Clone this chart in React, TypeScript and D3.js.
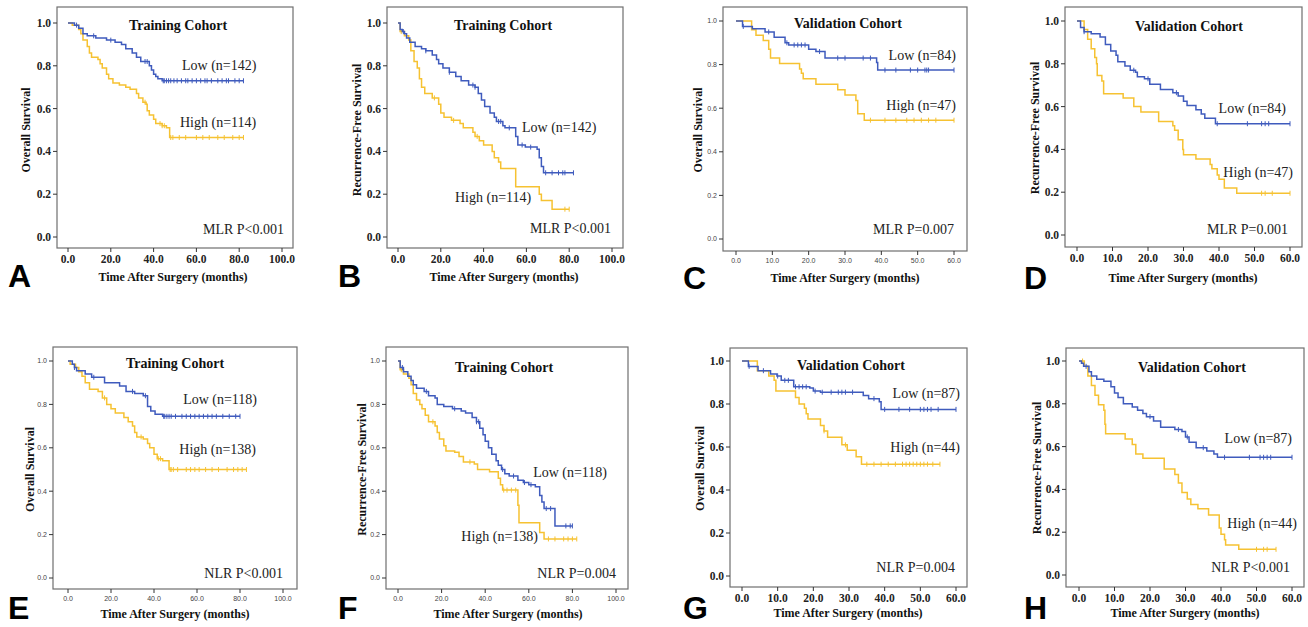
import * as d3 from 'd3';
import React, { useEffect } from 'react';

// survival steps: [time (months), survival after event]
const aLow = [[0,1],[3,0.99],[5,0.975],[7,0.95],[9,0.94],[13,0.93],[18,0.92],[22,0.91],[25,0.90],[27,0.88],[30,0.86],[32,0.84],[34,0.82],[38,0.80],[39,0.78],[40,0.76],[41,0.75],[42,0.74],[44,0.73]];
const aLowCens = [4,12,20,36,37,44.5,45,46,47,48,49.5,51,53,55,56,58,60,62,64,65,67,70,72,74,75,78,80,82];
const aHigh = [[0,1],[2,0.99],[5,0.97],[6,0.95],[7,0.92],[9,0.89],[10,0.86],[11,0.84],[14,0.83],[15,0.81],[16,0.79],[18,0.76],[19,0.74],[21,0.72],[24,0.71],[27,0.70],[29,0.69],[32,0.67],[33,0.65],[35,0.63],[36.5,0.62],[37,0.59],[38,0.57],[40,0.55],[41,0.53],[44,0.52],[46,0.51],[47.5,0.465]];
const aHighCens = [36,43,44,45,48,49,52,55,60,63,66,70,73,77,80,82];

const bLow = [[0,1],[1,0.97],[2,0.96],[3,0.95],[4,0.93],[5.5,0.91],[8,0.89],[11,0.88],[13,0.87],[16,0.85],[18,0.83],[19,0.81],[21,0.79],[24,0.77],[27,0.75],[29.5,0.73],[33,0.71],[36,0.70],[37.5,0.67],[39,0.64],[40.5,0.61],[43,0.58],[45,0.56],[46,0.54],[49,0.52],[50,0.51],[55,0.47],[56,0.43],[59.5,0.42],[65,0.41],[66,0.37],[67,0.33],[68,0.30]];
const bLowCens = [2.5,13,24,35,36,47,48,52,58,62,69,72,75,77,78,82];
const bHigh = [[0,1],[1,0.96],[3,0.94],[5,0.92],[6,0.87],[7.5,0.82],[9,0.79],[10,0.74],[11,0.70],[12.5,0.67],[16,0.65],[19,0.62],[20,0.58],[21.5,0.56],[25,0.545],[29,0.53],[30.5,0.51],[35,0.49],[36,0.47],[38,0.45],[40,0.43],[44,0.40],[45,0.37],[47,0.35],[48,0.32],[55,0.235],[66,0.20],[67,0.17],[72,0.13]];
const bHighCens = [1.5,17,26,37,78,80];

const cLow = [[0,1],[1.8,0.975],[4.5,0.965],[8,0.95],[10.5,0.925],[13.5,0.90],[14.5,0.89],[20,0.87],[22,0.86],[24.5,0.83],[38.7,0.81],[39,0.775]];
const cLowCens = [2,9,14,16,17,18,19,23,28,30,35,37,41,44,48,50,52,52.5,53,60];
const cHigh = [[0,1],[4.3,0.96],[5.5,0.935],[7.5,0.91],[9,0.87],[9.5,0.83],[12,0.805],[17.5,0.78],[18,0.76],[18.5,0.735],[22,0.71],[28,0.685],[30,0.66],[33,0.635],[33.5,0.575],[35.3,0.545]];
const cHighCens = [37,41,44,47,49,51,53,55,60];

const dLow = [[0,1],[1,0.97],[2,0.95],[4,0.94],[6.5,0.925],[8,0.89],[9.5,0.86],[11,0.84],[11.5,0.81],[13.5,0.79],[15,0.77],[16.5,0.76],[17,0.74],[19,0.73],[20.5,0.705],[23.5,0.68],[27,0.665],[28.5,0.65],[30,0.625],[31,0.605],[33.5,0.585],[35,0.565],[36,0.545],[39,0.52]];
const dLowCens = [2,16,20,28,39.5,48,52,53,54,60];
const dHigh = [[0,1],[2,0.96],[3,0.915],[4,0.87],[5,0.83],[5.5,0.80],[5.7,0.745],[7,0.72],[7.5,0.66],[13,0.64],[16,0.60],[18,0.575],[23,0.53],[27,0.51],[27.5,0.49],[28.5,0.445],[29.8,0.40],[30,0.375],[33.5,0.355],[37.5,0.33],[38,0.31],[39.5,0.28],[40,0.26],[41.5,0.22],[45,0.195]];
const dHighCens = [52,53,55,60];

const eLow = [[0,1],[2,0.985],[3,0.97],[4,0.955],[8,0.94],[11,0.925],[17,0.90],[24,0.885],[27,0.86],[31,0.85],[35,0.84],[37,0.79],[38.5,0.77],[40.5,0.755],[44,0.745]];
const eLowCens = [3,12,30,36,44.5,45,46,47,48,50,53,55,57,59,61,63,65,67,69,72,75,78,80];
const eHigh = [[0,1],[1,0.985],[3.5,0.97],[5,0.95],[6.5,0.93],[8,0.90],[10,0.87],[14,0.86],[16,0.83],[18,0.80],[20,0.78],[22,0.76],[26,0.74],[28,0.72],[30,0.70],[31,0.67],[32,0.65],[35,0.64],[37,0.62],[38,0.60],[40,0.57],[41.5,0.55],[44,0.54],[47,0.50]];
const eHighCens = [17,34,42,43,47.5,48,49,51,55,57,59,61,64,67,70,74,77,79,81,83];

const fLow = [[0,1],[1,0.97],[2.5,0.95],[4.5,0.93],[6,0.91],[7,0.89],[8.5,0.875],[12,0.86],[14,0.84],[17,0.83],[18,0.80],[21,0.79],[25,0.78],[29,0.77],[31,0.76],[34,0.74],[36,0.72],[37.5,0.69],[39,0.66],[40,0.63],[41.5,0.60],[43,0.57],[45,0.54],[46,0.52],[47.5,0.50],[49,0.48],[51,0.47],[55,0.45],[57.5,0.44],[60,0.43],[63,0.42],[65,0.38],[66,0.35],[67,0.32],[72,0.24]];
const fLowCens = [2,13,26,36,37,48,53,58,61,68,70,77,79,80];
const fHigh = [[0,1],[1,0.96],[2.5,0.94],[5,0.92],[6,0.89],[7,0.85],[8.5,0.82],[10,0.80],[11,0.78],[12.5,0.75],[14,0.72],[17,0.70],[18,0.67],[19,0.64],[21,0.61],[22,0.585],[26,0.58],[28,0.56],[30,0.535],[35,0.525],[36.5,0.50],[42,0.49],[46,0.46],[47,0.43],[48,0.405],[55,0.335],[55.5,0.255],[65,0.21],[67,0.18]];
const fHighCens = [1.5,16,33,48.5,50,52,54,69,72,76,78,80,82];

const gLow = [[0,1],[1.8,0.975],[4.5,0.955],[8,0.94],[9.8,0.93],[11,0.91],[14.5,0.88],[19,0.875],[20,0.86],[22,0.855],[34,0.84],[35.5,0.825],[38.5,0.81],[39,0.775]];
const gLowCens = [2,6,10,12,13,15,16,17,18,20.5,22.5,25,27,28,29,31,37,40,44,47,50,51,52,53,55,60];
const gHigh = [[0,1],[4.3,0.955],[7.5,0.93],[9,0.91],[9.5,0.86],[15,0.83],[16,0.80],[17.5,0.78],[18,0.755],[18.5,0.73],[22,0.70],[23,0.675],[24,0.645],[28,0.61],[29.5,0.585],[32,0.555],[33.5,0.52]];
const gHighCens = [23,29,35,37,39,41,43,45,46,47,48,49,50,51,52,53.5,55.5];

const hLow = [[0,1],[0.7,0.99],[1.3,0.975],[2.8,0.95],[3.5,0.93],[5,0.915],[7,0.905],[9,0.88],[10,0.85],[11,0.83],[12.5,0.80],[15,0.785],[16.5,0.77],[18,0.755],[19,0.74],[21,0.72],[23,0.69],[27,0.68],[29,0.67],[30,0.645],[31,0.62],[33,0.595],[36,0.58],[38,0.565],[39,0.55]];
const hLowCens = [2,20,28,30.5,35,41,48,51,52,53,54,60];
const hHigh = [[0,1],[1.5,0.975],[2.5,0.93],[3.5,0.885],[4.5,0.84],[5.5,0.795],[7,0.77],[7.3,0.705],[7.5,0.66],[13,0.635],[15,0.61],[16,0.565],[18,0.545],[24,0.495],[27,0.47],[28,0.43],[29,0.385],[30.5,0.355],[31.5,0.33],[33.5,0.31],[36.5,0.28],[39.5,0.22],[40,0.19],[41,0.165],[41.3,0.14],[45,0.12]];
const hHighCens = [1,50,52,53,55.5];

const letters = ['A', 'B', 'C', 'D', 'E', 'F', 'G', 'H'];
const titles = ['Training Cohort', 'Training Cohort', 'Validation Cohort', 'Validation Cohort', 'Training Cohort', 'Training Cohort', 'Validation Cohort', 'Validation Cohort'];
const yLabels = ['Overall Survival', 'Recurrence-Free Survival', 'Overall Survival', 'Recurrence-Free Survival', 'Overall Survival', 'Recurrence-Free Survival', 'Overall Survival', 'Recurrence-Free Survival'];
const lowLabels = ['Low (n=142)', 'Low (n=142)', 'Low (n=84)', 'Low (n=84)', 'Low (n=118)', 'Low (n=118)', 'Low (n=87)', 'Low (n=87)'];
const highLabels = ['High (n=114)', 'High (n=114)', 'High (n=47)', 'High (n=47)', 'High (n=138)', 'High (n=138)', 'High (n=44)', 'High (n=44)'];
const pLabels = ['MLR P<0.001', 'MLR P<0.001', 'MLR P=0.007', 'MLR P=0.001', 'NLR P<0.001', 'NLR P=0.004', 'NLR P=0.004', 'NLR P<0.001'];
const xMax = [100, 100, 60, 60, 100, 100, 60, 60];
const lowCurves = [aLow, bLow, cLow, dLow, eLow, fLow, gLow, hLow];
const lowCens = [aLowCens, bLowCens, cLowCens, dLowCens, eLowCens, fLowCens, gLowCens, hLowCens];
const highCurves = [aHigh, bHigh, cHigh, dHigh, eHigh, fHigh, gHigh, hHigh];
const highCens = [aHighCens, bHighCens, cHighCens, dHighCens, eHighCens, fHighCens, gHighCens, hHighCens];

const BLUE = '#3f5bbd';
const YELLOW = '#f6c232';
const SERIF = '"Liberation Serif", "Times New Roman", serif';
const SANS = '"Liberation Sans", Arial, sans-serif';

// layout: frame box, plotting range, text anchors
const layout = [
  { frame: [57, 7, 293, 248], xr: [68, 282], yr: [237, 23], small: false, letter: [8, 287], title: [178, 30], low: [182, 70, 'start'], high: [180, 127, 'start'], p: [284, 234], yl: 26, xl: [173, 281] },
  { frame: [387, 7, 623, 248], xr: [398, 612], yr: [237, 23], small: false, letter: [338, 287], title: [503, 30], low: [522, 132, 'start'], high: [455, 202, 'start'], p: [611, 233], yl: 357, xl: [504, 281] },
  { frame: [723, 7, 967, 251], xr: [736, 954], yr: [239, 21], small: true, letter: [683, 289], title: [848, 28], low: [956, 60, 'end'], high: [956, 110, 'end'], p: [954, 234], yl: 698, xl: [845, 282] },
  { frame: [1065, 7, 1302, 247], xr: [1077, 1290], yr: [235, 21], small: false, letter: [1024, 289], title: [1189, 31], low: [1286, 113, 'end'], high: [1293, 177, 'end'], p: [1288, 234], yl: 1035, xl: [1183, 282] },
  { frame: [53, 347, 297, 589], xr: [68, 283], yr: [578, 361], small: true, letter: [8, 619], title: [175, 368], low: [257, 404, 'end'], high: [256, 454, 'end'], p: [283, 578], yl: 30, xl: [175, 618] },
  { frame: [386, 347, 628, 589], xr: [398, 616], yr: [578, 361], small: true, letter: [338, 619], title: [504, 372], low: [607, 477, 'end'], high: [538, 541, 'end'], p: [616, 578], yl: 362, xl: [508, 618] },
  { frame: [730, 348, 967, 587], xr: [742, 956], yr: [576, 361], small: false, letter: [683, 619], title: [851, 370], low: [960, 398, 'end'], high: [960, 452, 'end'], p: [955, 572], yl: 700, xl: [848, 617] },
  { frame: [1066, 348, 1304, 587], xr: [1079, 1292], yr: [575, 361], small: false, letter: [1024, 619], title: [1192, 372], low: [1292, 443, 'end'], high: [1297, 528, 'end'], p: [1290, 572], yl: 1037, xl: [1185, 617] },
];

function Curve({ steps, cens, x, y, color }) {
  const end = Math.max(steps[steps.length - 1][0], d3.max(cens) || 0);
  const pts = [...steps, [end, steps[steps.length - 1][1]]];
  const line = d3.line().x(d => x(d[0])).y(d => y(d[1])).curve(d3.curveStepAfter);
  const bis = d3.bisector(d => d[0]).right;
  return (
    <g>
      <path d={line(pts)} fill="none" stroke={color} strokeWidth={1.5} />
      {cens.map((t, i) => {
        const s = steps[Math.max(0, bis(steps, t) - 1)][1];
        return <line key={i} x1={x(t)} x2={x(t)} y1={y(s) - 2.5} y2={y(s) + 2.5} stroke={color} strokeWidth={1} />;
      })}
    </g>
  );
}

function Panel({ i }) {
  const L = layout[i];
  const [fx0, fy0, fx1, fy1] = L.frame;
  const x = d3.scaleLinear().domain([0, xMax[i]]).range(L.xr);
  const y = d3.scaleLinear().domain([0, 1]).range(L.yr);
  const xt = d3.range(0, xMax[i] + 1, xMax[i] === 100 ? 20 : 10);
  const yt = y.ticks(5);
  const fmt = d3.format('.1f');
  const tickFont = L.small
    ? { fontFamily: SANS, fontSize: 7, fill: '#444' }
    : { fontFamily: SERIF, fontSize: 11.5, fontWeight: 'bold', fill: '#222' };
  const yMid = (L.yr[0] + L.yr[1]) / 2;
  return (
    <g>
      <rect x={fx0} y={fy0} width={fx1 - fx0} height={fy1 - fy0} fill="none" stroke="#6f6f6f" strokeWidth={1.2} />
      {yt.map(v => (
        <g key={'y' + v}>
          <line x1={fx0 - 4} x2={fx0} y1={y(v)} y2={y(v)} stroke="#333" />
          <text x={fx0 - 6} y={y(v)} dy="0.35em" textAnchor="end" {...tickFont}>{fmt(v)}</text>
        </g>
      ))}
      {xt.map(v => (
        <g key={'x' + v}>
          <line x1={x(v)} x2={x(v)} y1={fy1} y2={fy1 + 4} stroke="#333" />
          <text x={x(v)} y={fy1 + (L.small ? 12 : 15)} textAnchor="middle" {...tickFont}>{fmt(v)}</text>
        </g>
      ))}
      <Curve steps={highCurves[i]} cens={highCens[i]} x={x} y={y} color={YELLOW} />
      <Curve steps={lowCurves[i]} cens={lowCens[i]} x={x} y={y} color={BLUE} />
      <text x={L.title[0]} y={L.title[1]} textAnchor="middle" fontFamily={SERIF} fontWeight="bold" fontSize={14} fill="#111">{titles[i]}</text>
      <text x={L.low[0]} y={L.low[1]} textAnchor={L.low[2]} fontFamily={SERIF} fontSize={14} fill="#222">{lowLabels[i]}</text>
      <text x={L.high[0]} y={L.high[1]} textAnchor={L.high[2]} fontFamily={SERIF} fontSize={14} fill="#222">{highLabels[i]}</text>
      <text x={L.p[0]} y={L.p[1]} textAnchor="end" fontFamily={SERIF} fontSize={14} fill="#222">{pLabels[i]}</text>
      <text transform={`translate(${L.yl},${yMid}) rotate(-90)`} textAnchor="middle" dy="0.35em" fontFamily={SERIF} fontWeight="bold" fontSize={12} fill="#111">{yLabels[i]}</text>
      <text x={L.xl[0]} y={L.xl[1]} textAnchor="middle" fontFamily={SERIF} fontWeight="bold" fontSize={12} fill="#111">Time After Surgery (months)</text>
      <text x={L.letter[0]} y={L.letter[1]} fontFamily={SANS} fontWeight="bold" fontSize={32} fill="#000">{letters[i]}</text>
    </g>
  );
}

export default function App() {
  useEffect(() => {
    document.body.style.margin = '0';
  }, []);
  return (
    <svg width={1308} height={627} style={{ display: 'block', background: '#fff' }}>
      {letters.map((_, i) => <Panel key={i} i={i} />)}
    </svg>
  );
}
